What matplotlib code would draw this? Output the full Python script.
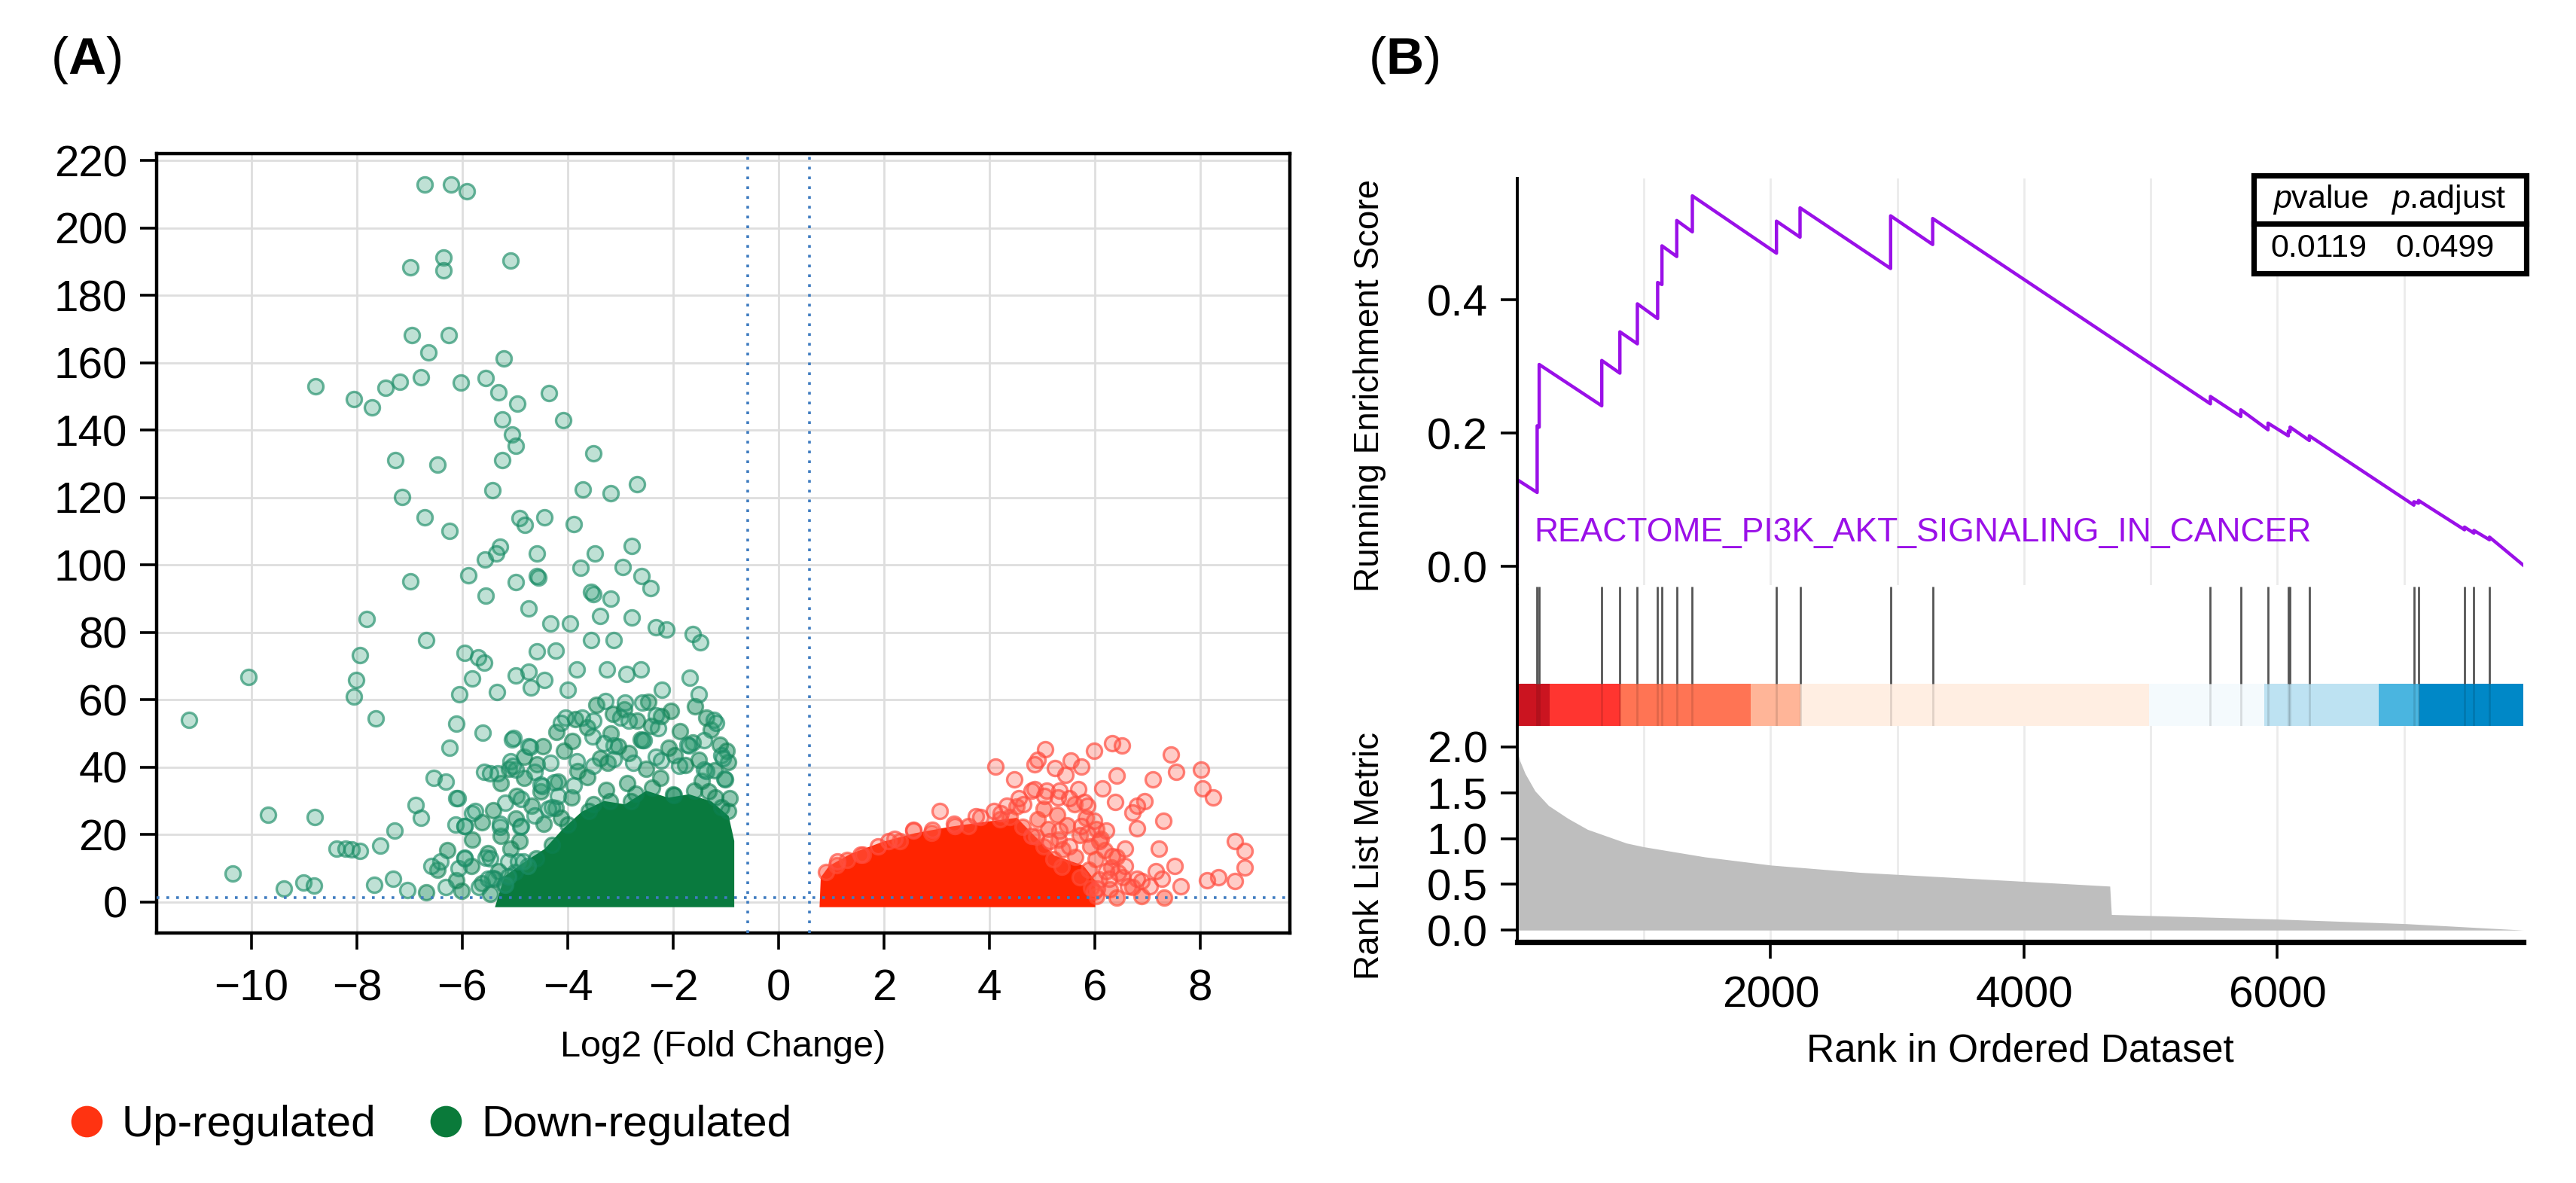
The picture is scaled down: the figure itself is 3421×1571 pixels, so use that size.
import matplotlib
matplotlib.use('Agg')
import matplotlib.pyplot as plt
from matplotlib.lines import Line2D
from matplotlib.patches import Rectangle

plt.rcParams['font.family'] = ['Liberation Sans', 'DejaVu Sans']
plt.rcParams['mathtext.fontset'] = 'custom'
plt.rcParams['mathtext.rm'] = 'Liberation Sans'
plt.rcParams['mathtext.it'] = 'Liberation Sans:italic'
plt.rcParams['mathtext.bf'] = 'Liberation Sans:bold'

# ---------------- panel A data (volcano) ----------------
# sparse down-regulated genes (log2FC, -log10 p)
down_x = [-6.72, -6.21, -5.92, -6.98, -6.36, -6.36, -5.08, -6.95, -6.26, -6.64, -5.21,
          -8.79, -8.05, -7.72, -7.46, -7.19, -6.79, -6.03, -5.56, -5.31, -4.96, -4.35,
          -5.24, -4.08, -5.06, -4.99, -3.51, -7.27, -6.47, -5.24, -5.43, -3.72, -3.18,
          -2.69, -7.14, -6.72, -6.24, -4.92, -4.81, -4.44, -3.88, -5.29, -5.57, -5.35,
          -4.59, -4.59, -3.48, -2.78, -3.76, -2.95, -2.60, -2.43, -6.98, -5.89, -4.99,
          -5.56, -3.51, -3.18,
          -7.82, -6.69, -7.94, -10.05, -8.02, -8.06, -11.19, -7.64, -9.68, -8.80, -10.35,
          -9.38, -9.01, -8.82, -8.39, -8.22, -8.10, -7.94, -7.56, -7.31, -7.67, -7.04,
          -7.29, -6.89, -6.79, -6.54, -6.32, -6.12, -6.24, -6.12, -5.62, -6.05, -5.81,
          -5.96, -5.70, -5.59, -6.13, -5.95, -5.81, -5.34, -4.99, -4.70, -4.59, -4.33,
          -3.95, -3.38, -4.74, -4.56, -3.55, -3.55, -3.13, -2.78, -2.33, -2.13, -1.63,
          -1.48, -4.23, -4.74, -4.44, -4.00, -3.83, -3.26, -2.89, -2.62, -1.68, -1.52,
          -2.22, -2.92, -2.59, -3.29, -4.04, -3.73, -3.00, -2.33, -1.23, -3.53, -2.59,
          -1.73, -1.08, -5.03, -4.74, -5.09, -4.33, -3.83, -3.13, -2.33, -1.42, -5.59,
          -5.33, -4.99, -4.63, -4.25, -4.48, -5.19, -4.88, -4.30, -5.29, -4.88, -4.63,
          -5.95, -5.56, -6.42, -6.59, -6.07, -5.13, -5.43, -6.32, -5.69, -5.19, -4.84,
          -5.06, -4.71, -5.47, -5.04, -4.52, -6.09, -5.76, -5.28, -4.90, -5.95, -5.95,
          -5.47, -4.94, -5.13, -4.75, -5.52, -4.37, -4.18, -3.89, -3.51, -3.13, -2.56,
          -2.28, -1.70, -1.42, -1.06, -1.18, -2.84, -3.51, -4.13, -3.32, -1.89, -1.37,
          -1.03, -2.23, -2.75]
down_y = [212.8, 212.8, 210.9, 188.3, 191.1, 187.4, 190.2, 168.1, 168.1, 163.0, 161.3,
          152.9, 149.2, 146.7, 152.6, 154.3, 155.6, 154.1, 155.5, 151.3, 147.8, 150.9,
          143.2, 142.9, 138.7, 135.3, 133.0, 131.0, 129.8, 131.1, 122.1, 122.4, 121.3,
          123.9, 120.2, 114.2, 110.2, 113.9, 111.9, 114.2, 112.1, 105.5, 101.7, 103.5,
          103.4, 96.6, 103.4, 105.7, 99.1, 99.3, 96.8, 93.2, 95.2, 96.9, 95.0,
          90.9, 91.4, 90.1,
          83.9, 77.7, 73.3, 66.8, 65.9, 60.9, 54.1, 54.4, 25.8, 25.2, 8.5,
          3.9, 5.8, 4.8, 15.9, 15.9, 15.6, 15.1, 16.7, 6.8, 5.2, 3.6,
          21.3, 28.7, 25.0, 36.8, 35.8, 30.9, 45.8, 52.9, 50.2, 61.6, 66.3,
          73.9, 72.5, 70.9, 22.9, 22.5, 26.3, 62.2, 67.3, 63.6, 74.3, 82.6,
          82.6, 84.9, 87.1, 96.3, 92.0, 77.7, 77.7, 84.5, 81.4, 80.8, 79.6,
          77.0, 74.6, 68.4, 65.9, 62.9, 69.0, 69.0, 67.7, 69.0, 66.6, 61.6,
          62.9, 59.1, 59.1, 59.7, 54.8, 54.8, 54.8, 55.4, 54.1, 49.2, 47.9,
          46.7, 43.5, 48.6, 46.1, 41.8, 41.2, 41.8, 42.4, 43.0, 39.3, 38.7,
          38.1, 39.3, 38.7, 35.5, 34.3, 29.4, 30.6, 28.1, 22.2, 22.5, 25.6,
          13.2, 13.2, 12.0, 10.8, 10.1, 12.0, 7.1, 4.5, 4.5, 5.2, 12.0,
          48.3, 46.0, 38.2, 40.4, 34.9, 30.7, 27.0, 23.3, 22.2, 22.5, 12.9,
          12.9, 12.1, 7.6, 10.6, 6.9, 27.7, 31.5, 34.5, 40.4, 46.4, 47.9,
          51.6, 46.4, 47.9, 42.7, 53.1, 53.9, 53.9, 53.1, 47.2, 40.4, 38.9,
          36.7, 41.9, 41.2]

# down-regulated genes in the crowded part of the cloud (estimated from the texture)
down_dense_x = [-3.45, -2.93, -2.47, -2.04, -1.58, -3.86, -3.14, -2.68, -2.23, -1.37,
                -4.22, -3.63, -3.18, -2.41, -1.87, -1.28, -4.47, -3.92, -3.04, -2.61, -2.08,
                -1.63, -1.12, -4.83, -4.07, -3.38, -2.84, -1.97, -1.52, -0.98, -5.12, -4.58,
                -3.81, -3.24, -2.52, -1.77, -1.21, -0.96, -5.27, -4.83, -4.18, -3.63, -2.87,
                -2.24, -1.46, -1.02, -4.97, -4.52, -3.93, -3.27, -2.72, -1.98, -1.33, -0.93,
                -5.42, -4.68, -4.23, -3.52, -1.08, -5.63, -4.98, -4.46, -4.13, -5.82, -5.27,
                -4.92, -6.28, -5.52, -5.08, -6.47, -5.83, -5.31, -6.12, -5.63, -5.38, -6.68,
                -6.02, -5.47,
                -5.2, -5.0, -4.6, -4.3, -4.0, -3.6, -3.2, -2.8, -2.4, -2.0, -1.6, -1.2, -0.95]
down_dense_y = [58.6, 57.2, 59.4, 56.8, 58.1, 54.3, 55.9, 53.7, 55.2, 54.6,
                50.4, 51.8, 49.9, 52.3, 50.6, 51.2, 46.3, 47.8, 46.1, 48.2, 45.7,
                47.4, 46.6, 43.1, 44.9, 42.6, 44.3, 43.5, 42.2, 44.8, 39.4, 40.9,
                38.8, 41.3, 39.6, 40.7, 39.1, 41.5, 35.2, 36.9, 35.6, 37.1, 35.3,
                36.8, 35.9, 36.4, 31.4, 32.8, 31.1, 33.2, 32.1, 31.6, 32.7, 30.9,
                27.3, 28.6, 27.8, 28.9, 28.2, 23.6, 24.7, 23.2, 25.1, 18.6, 19.7,
                18.1, 15.4, 14.6, 15.8, 9.6, 10.7, 9.2, 6.4, 5.6, 6.9, 2.8,
                3.4, 2.5,
                5, 9, 13, 17, 23, 27, 30, 30, 34, 32, 33, 31, 27]

# sparse up-regulated genes
up_x = [4.12, 4.47, 5.06, 4.92, 4.86, 5.24, 5.54, 5.74, 5.45, 5.98, 6.33, 6.51, 7.45,
        7.54, 6.42, 6.15, 7.10, 8.01, 8.04, 8.25, 6.39, 6.95, 6.80, 6.71, 7.30, 6.80,
        6.21, 7.22, 8.66, 8.84, 8.84, 7.51, 7.63, 8.13, 8.34, 8.66, 6.89, 6.57, 6.45,
        6.04, 6.21, 3.06, 3.83, 4.21, 4.65, 4.86, 5.09, 5.30, 5.68, 5.80, 3.35, 2.56,
        2.09, 1.56, 1.11,
        1.88, 2.20, 2.56, 2.91, 3.33, 3.74, 4.09, 4.33, 4.56, 4.80, 5.04, 5.33, 5.51,
        5.86, 5.98, 5.74, 5.33, 4.80, 5.15, 5.51, 5.86, 6.09, 6.33, 6.57, 6.80, 7.04,
        7.27, 6.27, 5.98, 6.63, 7.16]
up_y = [40.1, 36.3, 45.3, 42.3, 40.8, 39.7, 41.9, 40.1, 37.8, 44.9, 47.2, 46.4, 43.8,
        38.6, 37.5, 33.7, 36.3, 39.3, 33.7, 31.1, 29.6, 30.0, 28.5, 26.6, 24.0, 21.8,
        21.1, 15.8, 18.1, 15.1, 10.3, 10.6, 4.6, 6.5, 7.3, 6.2, 6.2, 15.8, 8.7,
        3.9, 9.1, 27.0, 25.2, 26.3, 28.9, 33.4, 33.0, 31.1, 33.4, 29.6, 22.6, 21.4,
        18.1, 14.0, 12.1,
        16.6, 18.8, 21.1, 21.4, 23.3, 25.5, 27.0, 28.5, 30.8, 33.0, 31.4, 33.0, 30.8,
        28.5, 24.0, 22.6, 21.1, 19.6, 18.1, 16.6, 20.3, 18.1, 13.6, 10.6, 6.9, 4.6,
        6.9, 6.9, 3.2, 4.6, 9.1]

up_dense_x = [4.52, 5.03, 5.61, 4.38, 4.92, 5.28, 5.83, 4.63, 5.12, 5.47, 6.03, 4.88,
              5.32, 5.71, 6.12, 5.03, 5.38, 5.92, 6.18, 5.22, 5.63, 6.02, 6.41, 5.37,
              5.88, 6.32, 5.72, 6.08, 6.53, 5.93, 6.28, 6.72, 6.03, 6.42, 6.88, 7.32,
              0.9, 1.1, 1.3, 1.6, 2.3, 2.9, 3.6, 4.2]
up_dense_y = [28.4, 27.6, 28.9, 25.3, 24.6, 25.8, 24.9, 22.4, 21.6, 22.8, 21.7, 19.3,
              18.6, 19.8, 18.7, 16.4, 15.7, 16.6, 15.4, 12.6, 13.4, 12.8, 13.3, 10.4,
              9.6, 10.3, 7.3, 6.6, 7.4, 4.2, 3.7, 4.4, 1.8, 1.3, 1.7, 1.4,
              9, 11, 12.5, 14, 18, 20.5, 22.5, 24.5]

# outlines of the saturated clouds where single points can no longer be told apart
down_core_x = [-5.3, -5.15, -4.8, -4.4, -4.05, -3.7, -3.3, -2.9, -2.5, -2.1, -1.7, -1.3, -1.0, -0.9, -0.9]
down_core_y = [-0.6, 7, 11, 15, 21, 26, 29, 28, 32, 30, 31, 29, 25, 18, -0.6]
up_core_x = [0.84, 0.86, 1.0, 1.4, 2.0, 2.6, 3.3, 4.0, 4.5, 4.75, 5.2, 5.75, 5.95, 5.95]
up_core_y = [-0.6, 7, 10, 13.5, 17, 19.5, 21.5, 23, 24, 20, 13, 10, 6, -0.6]

fc_cut = 0.585
p_cut = 1.3

# ---------------- panel B data (GSEA) ----------------
N_GENES = 7940
es_rank = [0, 1, 157, 157, 173, 173, 667, 667, 810, 810, 948, 948, 1108, 1108, 1142, 1142,
           1259, 1259, 1382, 1382, 2046, 2046, 2232, 2232, 2947, 2947, 3279, 3279,
           5471, 5471, 5711, 5711, 5926, 5926, 6086, 6086, 6100, 6100, 6252, 6252,
           7077, 7077, 7114, 7114, 7477, 7477, 7551, 7551, 7674, 7674, 7940]
es_score = [0.0, 0.130, 0.111, 0.211, 0.209, 0.303, 0.241, 0.309, 0.290, 0.352, 0.334, 0.394,
            0.372, 0.426, 0.423, 0.481, 0.465, 0.519, 0.502, 0.556, 0.470, 0.518, 0.494, 0.538,
            0.447, 0.526, 0.483, 0.522, 0.244, 0.255, 0.225, 0.235, 0.205, 0.215, 0.196, 0.203,
            0.202, 0.209, 0.189, 0.196, 0.092, 0.097, 0.095, 0.099, 0.055, 0.059, 0.050, 0.054,
            0.040, 0.044, 0.002]
hit_ranks = [1, 157, 173, 667, 810, 948, 1108, 1142, 1259, 1382, 2046, 2232, 2947, 3279,
             5471, 5711, 5926, 6086, 6100, 6252, 7077, 7114, 7477, 7551, 7674]

metric_rank = [0, 20, 62, 140, 247, 400, 554, 862, 997, 1477, 2000, 2708, 3631, 4677, 4690,
               6000, 7015, 7940]
metric_val = [1.97, 1.85, 1.71, 1.52, 1.36, 1.22, 1.10, 0.95, 0.91, 0.80, 0.71, 0.63, 0.56,
              0.48, 0.17, 0.12, 0.07, 0.0]

band_start = [0, 256, 815, 1840, 2232, 4985, 5896, 6800, 7120]
band_end = [256, 815, 1840, 2232, 4985, 5896, 6800, 7120, 7940]
band_color = ['#CB1420', '#FF3530', '#FF7454', '#FFB598', '#FFEEE2',
              '#F4FAFD', '#BDE2F2', '#4AB5E0', '#0088C7']

gene_set = 'REACTOME_PI3K_AKT_SIGNALING_IN_CANCER'
pvalue = '0.0119'
padjust = '0.0499'

# ---------------- figure ----------------
fig = plt.figure(figsize=(17.105, 7.855), dpi=200)

# ---- (A) volcano ----
green_dark = '#097A3E'
red_dark = '#FF2400'
ax = fig.add_axes([0.0608, 0.2113, 0.4399, 0.6588])
ax.fill(down_core_x, down_core_y, facecolor=green_dark, edgecolor=green_dark, lw=3, zorder=3)
ax.fill(up_core_x, up_core_y, facecolor=red_dark, edgecolor=red_dark, lw=3, zorder=3)
pt = dict(s=52, linewidth=1.2, zorder=4)
ax.scatter(down_dense_x, down_dense_y, facecolor=(0.05, 0.52, 0.33, 0.45),
           edgecolor=(0.05, 0.5, 0.32, 0.6), **pt)
ax.scatter(up_dense_x, up_dense_y, facecolor=(1.0, 0.3, 0.22, 0.5),
           edgecolor=(1.0, 0.3, 0.22, 0.65), **pt)
ax.scatter(down_x, down_y, facecolor=(0.18, 0.62, 0.46, 0.3),
           edgecolor=(0.1, 0.55, 0.4, 0.65), **pt)
ax.scatter(up_x, up_y, facecolor=(1.0, 0.35, 0.28, 0.3),
           edgecolor=(1.0, 0.3, 0.25, 0.7), **pt)
for v in (-fc_cut, fc_cut):
    ax.axvline(v, color='#3F7CC0', lw=1.3, ls=(0, (1, 2.6)), zorder=5)
ax.axhline(p_cut, color='#3F7CC0', lw=1.3, ls=(0, (1, 2.6)), zorder=5)

ax.set_xlim(-11.8, 9.7)
ax.set_ylim(-9.2, 222)
ax.set_xticks(range(-10, 9, 2))
ax.set_yticks(range(0, 221, 20))
ax.grid(True, color='#DEDEDE', lw=1.0, zorder=0)
ax.set_axisbelow(True)
for s in ax.spines.values():
    s.set_linewidth(1.6)
ax.tick_params(labelsize=21, length=8, width=1.3)
ax.tick_params(axis='y', pad=6)
ax.tick_params(axis='x', pad=9)
ax.set_xlabel('Log2 (Fold Change)', fontsize=17.5, labelpad=10)

handles = [Line2D([], [], ls='', marker='o', ms=14, color='#FF3311'),
           Line2D([], [], ls='', marker='o', ms=14, color='#0A7A3A')]
fig.legend(handles, ['Up-regulated', 'Down-regulated'], loc='center left',
           bbox_to_anchor=(0.008, 0.049), ncol=2, frameon=False, fontsize=21,
           handletextpad=0.2, columnspacing=1.0, handlelength=1.2)

fig.text(0.0195, 0.949, r'($\mathbf{A}$)', fontsize=25, va='center', ha='left')
fig.text(0.531, 0.949, r'($\mathbf{B}$)', fontsize=25, va='center', ha='left')

# ---- (B) GSEA ----
left, width = 0.5890, 0.3905
ax_es = fig.add_axes([left, 0.5054, width, 0.3437])
ax_hit = fig.add_axes([left, 0.3864, width, 0.1190])
ax_rk = fig.add_axes([left, 0.2037, width, 0.1827])

purple = '#9A10E8'
ax_es.plot(es_rank, es_score, color=purple, lw=1.6)
ax_es.set_ylim(-0.028, 0.582)
ax_es.set_yticks([0.0, 0.2, 0.4])
ax_es.set_yticklabels(['0.0', '0.2', '0.4'])
ax_es.text(0.017, 0.128, gene_set, transform=ax_es.transAxes, color=purple,
           fontsize=16, va='center', ha='left')
ax_es.set_ylabel('Running Enrichment Score', fontsize=16.5)

# p-value table
tx0, tx1, ty0, ty1, tmid = 0.732, 1.003, 0.767, 1.007, 0.889
ax_es.add_patch(Rectangle((tx0, ty0), tx1 - tx0, ty1 - ty0, transform=ax_es.transAxes,
                          fill=True, facecolor='white', edgecolor='black', lw=2.6,
                          clip_on=False, zorder=6))
ax_es.plot([tx0, tx1], [tmid, tmid], transform=ax_es.transAxes, color='black', lw=2.6,
           clip_on=False, zorder=7)
tkw = dict(transform=ax_es.transAxes, fontsize=15.5, ha='center', va='center', zorder=8)
ax_es.text(0.799, 0.948, r'$p$value', **tkw)
ax_es.text(0.926, 0.948, r'$p$.adjust', **tkw)
ax_es.text(0.797, 0.828, pvalue, **tkw)
ax_es.text(0.922, 0.828, padjust, **tkw)

# hits + ranked colour band
bar_top = 0.30
ax_hit.broken_barh([(s, e - s) for s, e in zip(band_start, band_end)], (0, bar_top),
                   facecolors=band_color, lw=0)
ax_hit.vlines(hit_ranks, bar_top, 0.99, color='#555555', lw=1.0)
ax_hit.vlines(hit_ranks, 0, bar_top, color='black', lw=1.0, alpha=0.12)
ax_hit.set_ylim(0, 1)
ax_hit.set_yticks([])

ax_rk.fill_between(metric_rank, metric_val, 0, color='#BEBEBE', lw=0)
ax_rk.set_ylim(-0.13, 2.23)
ax_rk.set_yticks([0, 0.5, 1.0, 1.5, 2.0])
ax_rk.set_yticklabels(['0.0', '0.5', '1.0', '1.5', '2.0'])
ax_rk.set_ylabel('Rank List Metric', fontsize=16.5)
ax_rk.set_xlabel('Rank in Ordered Dataset', fontsize=18.5, labelpad=8)

for a in (ax_es, ax_hit, ax_rk):
    a.set_xlim(0, N_GENES)
    a.set_xticks([2000, 4000, 6000])
    a.set_xticks([1000, 3000, 5000, 7000], minor=True)
    for side in ('top', 'right', 'bottom'):
        a.spines[side].set_visible(False)
    a.spines['left'].set_linewidth(1.4)
    a.tick_params(axis='y', labelsize=21, length=8, width=1.3, pad=6)
for a in (ax_es, ax_rk):
    a.grid(True, axis='x', which='both', color='#EBEBEB', lw=1.0)
    a.set_axisbelow(True)
for a in (ax_es, ax_hit):
    a.tick_params(axis='x', which='both', length=0, labelbottom=False)
ax_rk.spines['bottom'].set_visible(True)
ax_rk.spines['bottom'].set_linewidth(2.6)
ax_rk.tick_params(axis='x', labelsize=21, length=8, width=1.3, pad=8)
ax_rk.tick_params(axis='x', which='minor', length=0)
ax_es.yaxis.set_label_coords(-0.130, 0.49)
ax_rk.yaxis.set_label_coords(-0.130, 0.40)

fig.savefig('out.png', dpi=200)
